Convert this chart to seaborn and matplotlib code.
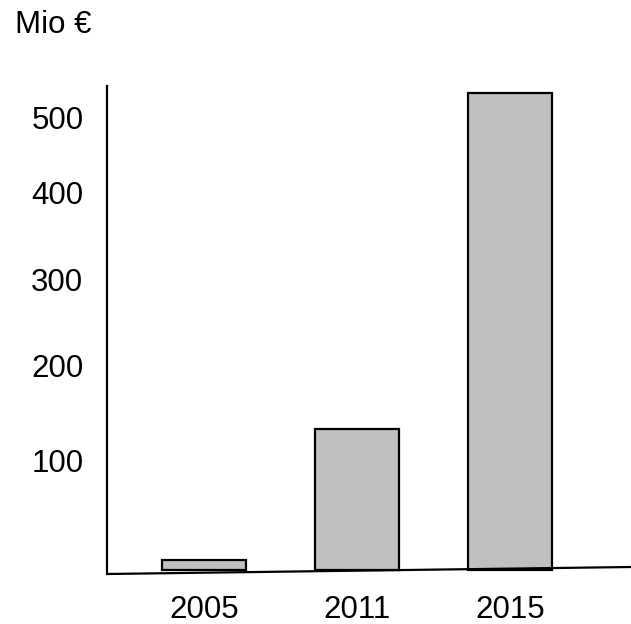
import numpy as np
import pandas as pd
import matplotlib
matplotlib.use("Agg")
import matplotlib.pyplot as plt
import seaborn as sns
from matplotlib.lines import Line2D

# data
years = ["2005", "2011", "2015"]
amounts = [11, 157, 530]          # Mio €
tick_labels = ["100", "200", "300", "400", "500"]
tick_pos = [122, 227, 323, 419, 503]   # where the labels sit on the drawn scale

sns.set_theme(style="white")
plt.rcParams['font.family'] = ['Liberation Sans', 'DejaVu Sans']
plt.rcParams['text.color'] = 'black'

df = pd.DataFrame({"year": years, "amount": amounts})

fig = plt.figure(figsize=(6.31, 6.24), dpi=100)
W, H = 631, 624
ax = fig.add_axes([107 / W, (H - 574) / H, 1 - 107 / W, (574 - 86) / H])

sns.barplot(data=df, x="year", y="amount", color="#c0c0c0", saturation=1,
            width=0.55, edgecolor="black", linewidth=1.6, ax=ax)

ax.set_xlim(-0.634, 2.79)
ax.set_ylim(-4.4, 537.8)
ax.set_yticks(tick_pos)
ax.set_yticklabels(tick_labels)
ax.set_xlabel("")
ax.set_ylabel("")
ax.tick_params(axis="both", length=0, labelsize=22.5, colors="black")
ax.tick_params(axis="y", pad=17)
ax.tick_params(axis="x", pad=15)

for s in ["top", "right", "bottom"]:
    ax.spines[s].set_visible(False)
ax.spines["left"].set_color("black")
ax.spines["left"].set_linewidth(1.6)

# slightly slanted baseline, as in the original drawing
fig.add_artist(Line2D([107 / W, 1.0], [1 - 574 / H, 1 - 567 / H],
                      transform=fig.transFigure, color="black", lw=1.6))

fig.text(15 / W, 1 - 33 / H, "Mio €", fontsize=22.5, va="baseline", ha="left",
         color="black")

fig.savefig("out.png", dpi=100, facecolor="white")
